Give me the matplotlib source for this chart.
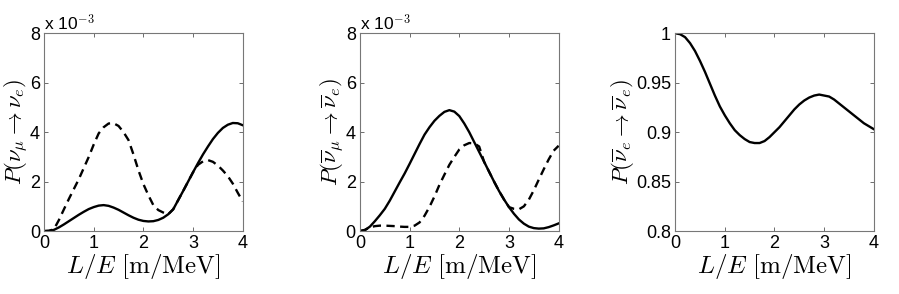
import matplotlib
matplotlib.use('Agg')
import matplotlib.pyplot as plt
import numpy as np

plt.rcParams['font.family'] = ['Liberation Sans', 'DejaVu Sans']
plt.rcParams['mathtext.fontset'] = 'cm'

# L/E grid [m/MeV]
le = np.arange(41) * 0.1

# panel 1: P(nu_mu -> nu_e), units of 1e-3
p1_solid = [0.00, 0.01, 0.05, 0.15, 0.27, 0.40, 0.53, 0.66, 0.78, 0.89,
            0.97, 1.03, 1.05, 1.02, 0.95, 0.86, 0.75, 0.64, 0.54, 0.46,
            0.41, 0.39, 0.40, 0.45, 0.54, 0.68, 0.88, 1.25, 1.62, 2.00,
            2.38, 2.75, 3.10, 3.42, 3.72, 3.97, 4.17, 4.30, 4.37, 4.36,
            4.28]
p1_dash = [0.00, 0.01, 0.08, 0.45, 0.88, 1.30, 1.70, 2.10, 2.55, 3.00,
           3.50, 3.95, 4.20, 4.35, 4.36, 4.25, 4.00, 3.68, 3.10, 2.46,
           1.90, 1.45, 1.05, 0.85, 0.75, 0.68, 0.88, 1.25, 1.62, 2.00,
           2.38, 2.68, 2.82, 2.87, 2.80, 2.65, 2.45, 2.22, 1.92, 1.55,
           1.20]

# panel 2: P(nubar_mu -> nubar_e), units of 1e-3
p2_solid = [0.00, 0.04, 0.18, 0.40, 0.64, 0.90, 1.23, 1.60, 1.97, 2.33,
            2.72, 3.12, 3.52, 3.90, 4.20, 4.46, 4.66, 4.82, 4.89, 4.83,
            4.65, 4.35, 4.00, 3.60, 3.20, 2.80, 2.40, 2.00, 1.62, 1.28,
            0.97, 0.70, 0.47, 0.30, 0.18, 0.12, 0.10, 0.11, 0.16, 0.23,
            0.31]
p2_dash = [0.00, 0.05, 0.15, 0.20, 0.22, 0.22, 0.21, 0.20, 0.18, 0.17,
           0.17, 0.22, 0.35, 0.62, 0.98, 1.40, 1.87, 2.28, 2.68, 3.00,
           3.30, 3.47, 3.56, 3.55, 3.42, 2.80, 2.40, 2.00, 1.62, 1.28,
           0.97, 0.90, 0.88, 1.00, 1.27, 1.65, 2.08, 2.50, 2.90, 3.25,
           3.45]

# panel 3: P(nubar_e -> nubar_e)
p3_solid = [1.000, 0.999, 0.996, 0.990, 0.982, 0.972, 0.961, 0.949, 0.937, 0.926,
            0.917, 0.909, 0.902, 0.897, 0.893, 0.890, 0.889, 0.889, 0.891, 0.895,
            0.900, 0.905, 0.911, 0.917, 0.923, 0.928, 0.932, 0.935, 0.937, 0.938,
            0.937, 0.936, 0.933, 0.929, 0.925, 0.921, 0.917, 0.913, 0.909, 0.906,
            0.903]

ylabels = [r'$P(\nu_\mu \to \nu_e)$',
           r'$P(\overline{\nu}_\mu \to \overline{\nu}_e)$',
           r'$P(\overline{\nu}_e \to \overline{\nu}_e)$']
lefts = [0.049, 0.4004, 0.751]

fig = plt.figure(figsize=(8.99, 2.94), dpi=100)
axes = [fig.add_axes([l, 0.214, 0.221, 0.673]) for l in lefts]

axes[0].plot(le, p1_solid, color='black', lw=1.7)
axes[0].plot(le, p1_dash, color='black', lw=1.7, linestyle=(0, (3.5, 2.3)))
axes[1].plot(le, p2_solid, color='black', lw=1.7)
axes[1].plot(le, p2_dash, color='black', lw=1.7, linestyle=(0, (3.5, 2.3)))
axes[2].plot(le, p3_solid, color='black', lw=1.7)

for i, ax in enumerate(axes):
    ax.set_xlim(0, 4)
    ax.set_xticks([0, 1, 2, 3, 4])
    if i < 2:
        ax.set_ylim(0, 8)
        ax.set_yticks([0, 2, 4, 6, 8])
        ax.text(0.0, 1.0, r'x 10$^{-3}$', transform=ax.transAxes,
                fontsize=12.5, ha='left', va='bottom')
    else:
        ax.set_ylim(0.8, 1.0)
        ax.set_yticks([0.8, 0.85, 0.9, 0.95, 1.0])
        ax.set_yticklabels(['0.8', '0.85', '0.9', '0.95', '1'])
    ax.tick_params(direction='in', top=True, right=True, length=3,
                   width=0.6, labelsize=13, pad=3, color='#555555')
    for s in ax.spines.values():
        s.set_color('#777777')
        s.set_linewidth(0.8)
    ax.set_xlabel(r'$L/E\ [\mathrm{m/MeV}]$', fontsize=18, labelpad=0)
    ax.set_ylabel(ylabels[i], fontsize=16.5, labelpad=0)

fig.savefig('out.png', dpi=100)
